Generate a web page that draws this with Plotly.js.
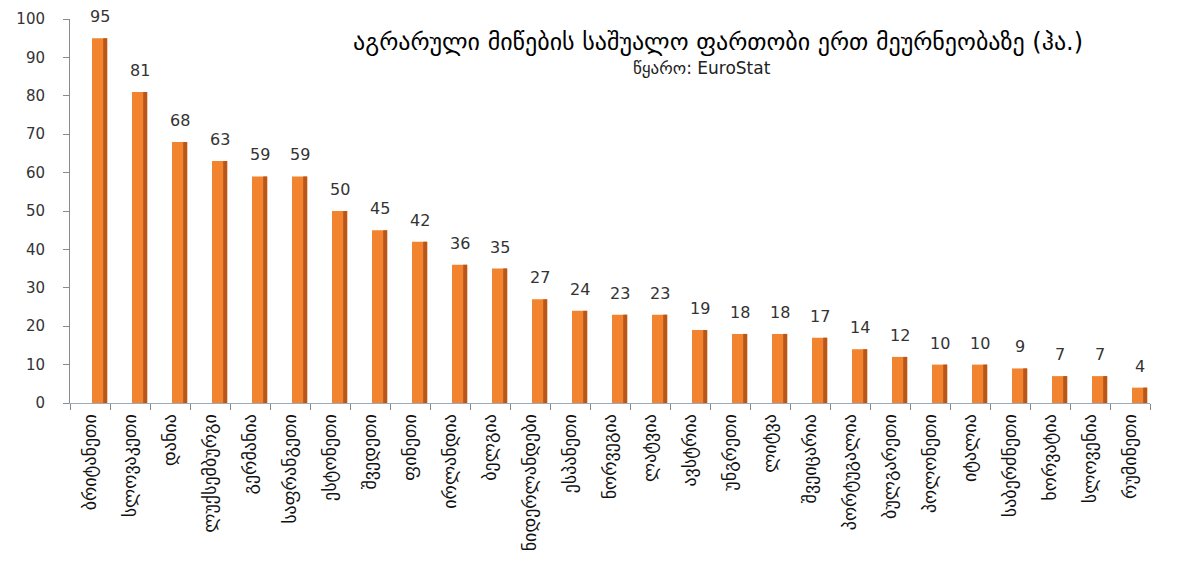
<!DOCTYPE html>
<html>
<head>
<meta charset="utf-8">
<script src="https://cdn.plot.ly/plotly-3.0.1.min.js"></script>
<style>html,body{margin:0;padding:0;background:#fff;}#chart{width:1181px;height:576px;}</style>
</head>
<body>
<div id="chart"></div>
<script>
const countries = ["ბრიტანეთი","სლოვაკეთი","დანია","ლუქსემბურგი","გერმანია","საფრანგეთი","ესტონეთი","შვედეთი","ფინეთი","ირლანდია","ბელგია","ნიდერლანდები","ესპანეთი","ნორვეგია","ლატვია","ავსტრია","უნგრეთი","ლიტვა","შვეიცარია","პორტუგალია","ბულგარეთი","პოლონეთი","იტალია","საბერძნეთი","ხორვატია","სლოვენია","რუმინეთი"];
const avgArea = [95,81,68,63,59,59,50,45,42,36,35,27,24,23,23,19,18,18,17,14,12,10,10,9,7,7,4];
const yTicks = [0,10,20,30,40,50,60,70,80,90,100];
const titleText = "აგრარული მიწების საშუალო ფართობი ერთ მეურნეობაზე (ჰა.)";
const sourceText = "წყარო: EuroStat";

const main = {
  type: "bar", x: countries, y: avgArea,
  width: 0.38, offset: 0.05,
  marker: {color: "#F2842F", line: {width: 0}},
  hoverinfo: "x+y"
};
const shade = {
  type: "bar", x: countries, y: avgArea,
  width: 0.1, offset: 0.33,
  marker: {color: "#B9571A", line: {width: 0}},
  hoverinfo: "skip"
};

const valueLabels = countries.map((c, i) => ({
  x: c, y: avgArea[i], xref: "x", yref: "y",
  text: String(avgArea[i]), showarrow: false,
  xanchor: "center", yanchor: "bottom", xshift: 10, yshift: 10,
  font: {family: "DejaVu Sans, sans-serif", size: 16, color: "#333333"}
}));

const layout = {
  width: 1181, height: 576,
  margin: {l: 70, r: 31, t: 19, b: 173},
  paper_bgcolor: "#ffffff", plot_bgcolor: "#ffffff",
  showlegend: false, barmode: "overlay",
  font: {family: "DejaVu Sans, sans-serif", color: "#222"},
  xaxis: {
    type: "category", tickangle: -90, automargin: false,
    showline: true, linecolor: "#9AAAC0", linewidth: 1,
    ticks: "outside", tickson: "boundaries", ticklen: 6, tickcolor: "#8a8a8a",
    ticklabelstandoff: 3,
    tickfont: {family: "DejaVu Sans, sans-serif", size: 18, color: "#111"},
    showgrid: false, zeroline: false, fixedrange: true
  },
  yaxis: {
    range: [0, 100], tickvals: yTicks, ticktext: yTicks.map(String),
    showline: true, linecolor: "#8a8a8a", linewidth: 1,
    ticks: "outside", ticklen: 6, tickcolor: "#8a8a8a",
    ticklabelstandoff: 15,
    tickfont: {family: "DejaVu Sans, sans-serif", size: 15, color: "#333"},
    showgrid: false, zeroline: false, automargin: false, fixedrange: true
  },
  annotations: valueLabels.concat([
    {text: titleText, xref: "paper", yref: "paper", x: 0.6, y: 0.94, xanchor: "center", yanchor: "middle", showarrow: false,
     font: {family: "DejaVu Sans, sans-serif", size: 24, color: "#000"}},
    {text: sourceText, xref: "paper", yref: "paper", x: 0.585, y: 0.872, xanchor: "center", yanchor: "middle", showarrow: false,
     font: {family: "DejaVu Sans, sans-serif", size: 17, color: "#222"}}
  ])
};

Plotly.newPlot("chart", [main, shade], layout, {displayModeBar: false, staticPlot: true});
</script>
</body>
</html>
